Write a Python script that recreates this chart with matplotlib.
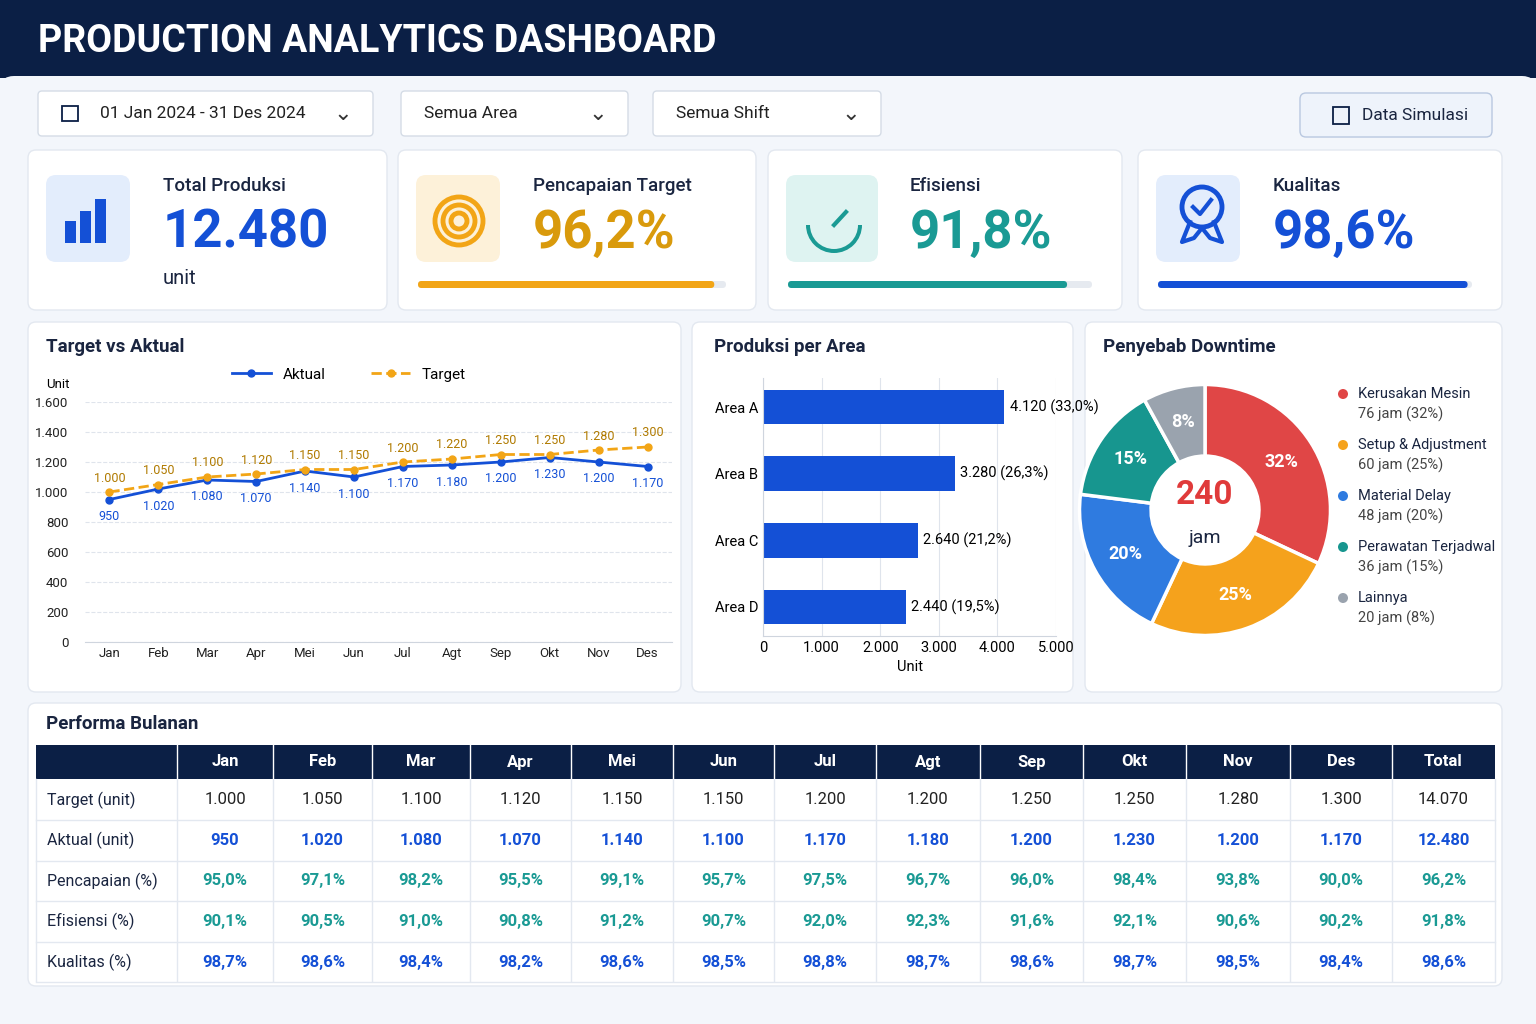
import matplotlib.pyplot as plt
from matplotlib.patches import FancyBboxPatch, Rectangle, Circle, Wedge

W, H = 1536, 1024
NAVY = "#0b1f45"
BLUE = "#1450d6"
ORANGE = "#f2a516"
TEAL = "#1a9a94"
GRID = "#dfe4ec"

months = ["Jan", "Feb", "Mar", "Apr", "Mei", "Jun", "Jul", "Agt", "Sep", "Okt", "Nov", "Des"]
target = [1000, 1050, 1100, 1120, 1150, 1150, 1200, 1220, 1250, 1250, 1280, 1300]
aktual = [950, 1020, 1080, 1070, 1140, 1100, 1170, 1180, 1200, 1230, 1200, 1170]
areas = ["Area A", "Area B", "Area C", "Area D"]
area_vals = [4120, 3280, 2640, 2440]
area_pct = ["33,0%", "26,3%", "21,2%", "19,5%"]
dt_names = ["Kerusakan Mesin", "Setup & Adjustment", "Material Delay", "Perawatan Terjadwal", "Lainnya"]
dt_hours = [76, 60, 48, 36, 20]
dt_pct = [32, 25, 20, 15, 8]
dt_colors = ["#e04646", "#f5a21c", "#2f7be0", "#17968f", "#9aa3ae"]

tbl_target = ["1.000", "1.050", "1.100", "1.120", "1.150", "1.150", "1.200", "1.200", "1.250", "1.250", "1.280", "1.300", "14.070"]
tbl_aktual = ["950", "1.020", "1.080", "1.070", "1.140", "1.100", "1.170", "1.180", "1.200", "1.230", "1.200", "1.170", "12.480"]
tbl_capai = ["95,0%", "97,1%", "98,2%", "95,5%", "99,1%", "95,7%", "97,5%", "96,7%", "96,0%", "98,4%", "93,8%", "90,0%", "96,2%"]
tbl_efis = ["90,1%", "90,5%", "91,0%", "90,8%", "91,2%", "90,7%", "92,0%", "92,3%", "91,6%", "92,1%", "90,6%", "90,2%", "91,8%"]
tbl_kual = ["98,7%", "98,6%", "98,4%", "98,2%", "98,6%", "98,5%", "98,8%", "98,7%", "98,6%", "98,7%", "98,5%", "98,4%", "98,6%"]

plt.rcParams['font.family'] = ['Roboto', 'DejaVu Sans']
fig = plt.figure(figsize=(15.36, 10.24), dpi=100)
fig.patch.set_facecolor("#f3f6fb")
bg = fig.add_axes([0, 0, 1, 1])
bg.set_xlim(0, W); bg.set_ylim(H, 0); bg.axis("off")


def pax(x, y, w, h):
    return fig.add_axes([x / W, 1 - (y + h) / H, w / W, h / H])


def card(x, y, w, h, fc="white", ec="#e3e8f0", r=8):
    bg.add_patch(FancyBboxPatch((x, y), w, h, boxstyle=f"round,pad=0,rounding_size={r}",
                                fc=fc, ec=ec, lw=1))


# header
bg.add_patch(Rectangle((0, 0), W, 78, fc=NAVY))
card(0, 76, W, 950, fc="#f3f6fb", ec="none", r=14)
bg.text(38, 42, "PRODUCTION ANALYTICS DASHBOARD", color="white", fontsize=27,
        fontweight="bold", va="center")

# filters
for x, w, label in [(38, 335, "01 Jan 2024 - 31 Des 2024"), (401, 227, "Semua Area"), (653, 228, "Semua Shift")]:
    card(x, 91, w, 45, r=4, ec="#d5dce6")
    tx = x + 62 if x == 38 else x + 23
    bg.text(tx, 114, label, fontsize=12.5, va="center", color="#222")
    bg.text(x + w - 30, 114, "⌄", fontsize=16, va="center", ha="center", color="#333")
bg.add_patch(Rectangle((62, 106), 16, 15, fc="none", ec=NAVY, lw=1.3))
card(1300, 93, 192, 44, fc="#eef3fb", ec="#b9c8e0", r=6)
bg.text(1362, 116, "Data Simulasi", fontsize=12.5, va="center", color="#1a2540")
bg.add_patch(Rectangle((1333, 107), 16, 17, fc="none", ec=NAVY, lw=1.3))

# KPI cards
kpis = [(28, 359, "Total Produksi", "12.480", BLUE, "#e3edfc", None),
        (398, 358, "Pencapaian Target", "96,2%", "#d99a0c", "#fdf1d9", (ORANGE, 0.962)),
        (768, 354, "Efisiensi", "91,8%", TEAL, "#def3f1", (TEAL, 0.918)),
        (1138, 364, "Kualitas", "98,6%", BLUE, "#e3edfc", (BLUE, 0.986))]
for x, w, title, val, col, icbg, bar in kpis:
    card(x, 150, w, 160)
    card(x + 18, 25 + 150, 84 if x != 768 else 92, 87, fc=icbg, ec="none", r=10)
    tx = x + 135 if x == 28 else x + 135 if x != 768 else x + 142
    bg.text(tx, 186, title, fontsize=13.5, fontweight="medium", va="center", color="#1a2540")
    bg.text(tx, 233, val, fontsize=38, fontweight="bold", va="center", color=col)
    if bar:
        c, f = bar
        bw = w - 50
        card(x + 20, 281, bw, 7, fc="#e6eaf0", ec="none", r=3.5)
        card(x + 20, 281, bw * f, 7, fc=c, ec="none", r=3.5)
    else:
        bg.text(163, 278, "unit", fontsize=14.5, va="center", color="#1a2540")
# icons
for i, hh in enumerate([22, 32, 44]):
    bg.add_patch(Rectangle((65 + i * 15, 243 - hh), 11, hh, fc=BLUE))
for r, c in [(24, ORANGE), (16, ORANGE), (8, ORANGE)]:
    bg.add_patch(Circle((459, 221), r, fc="none", ec=c, lw=3.5))
bg.add_patch(Wedge((834, 225), 28, 0, 180, width=4, fc=TEAL))
bg.plot([834, 846], [225, 212], color=TEAL, lw=3)
bg.add_patch(Circle((1202, 207), 20, fc="none", ec=BLUE, lw=3.5))
bg.plot([1193, 1200, 1211], [207, 214, 200], color=BLUE, lw=3)
bg.plot([1190, 1182, 1194, 1202], [222, 242, 238, 228], color=BLUE, lw=3)
bg.plot([1214, 1222, 1210, 1202], [222, 242, 238, 228], color=BLUE, lw=3)

# panel cards
card(28, 322, 653, 370)
card(692, 322, 381, 370)
card(1085, 322, 417, 370)
card(28, 703, 1474, 283)
bg.text(46, 347, "Target vs Aktual", fontsize=13.5, fontweight="bold", va="center", color="#1a2540")
bg.text(714, 347, "Produksi per Area", fontsize=13.5, fontweight="bold", va="center", color="#1a2540")
bg.text(1103, 347, "Penyebab Downtime", fontsize=13.5, fontweight="bold", va="center", color="#1a2540")
bg.text(46, 724, "Performa Bulanan", fontsize=13.5, fontweight="bold", va="center", color="#1a2540")

# line chart
ax = pax(85, 402, 587, 240)
x = range(len(months))
ax.plot(x, aktual, color=BLUE, lw=2, marker="o", ms=5, label="Aktual")
ax.plot(x, target, color=ORANGE, lw=2, ls="--", marker="o", ms=5, label="Target")
for i in x:
    ax.text(i, target[i] + 50, f"{target[i]:,}".replace(",", "."), ha="center", va="bottom",
            fontsize=9, color="#b07a00")
    ax.text(i, aktual[i] - 70, f"{aktual[i]:,}".replace(",", "."), ha="center", va="top",
            fontsize=9, color=BLUE)
ax.set_xlim(-0.5, 11.5); ax.set_ylim(0, 1600)
ax.set_yticks(range(0, 1601, 200))
ax.set_yticklabels([f"{v:,}".replace(",", ".") for v in range(0, 1601, 200)])
ax.set_xticks(list(x)); ax.set_xticklabels(months)
ax.tick_params(labelsize=9.5, length=0, colors="#222")
ax.yaxis.set_tick_params(pad=12)
ax.grid(axis="y", color=GRID, ls="--", lw=0.8)
for s in ax.spines.values():
    s.set_visible(False)
ax.spines["bottom"].set_visible(True); ax.spines["bottom"].set_color("#cfd5de")
ax.set_facecolor("none")
ax.legend(loc="upper center", bbox_to_anchor=(0.45, 1.2), ncol=2, frameon=False, fontsize=11,
          handlelength=2.5, columnspacing=3)
bg.text(46, 384, "Unit", fontsize=9.5, va="center")

# bar chart
bx = pax(763, 378, 293, 258)
yp = range(len(areas))
bx.barh(yp, area_vals, height=0.52, color=BLUE)
for i, v in enumerate(area_vals):
    bx.text(v + 90, i, f"{v:,}".replace(",", ".") + f" ({area_pct[i]})", va="center", fontsize=10.5)
bx.set_yticks(list(yp)); bx.set_yticklabels(areas)
bx.invert_yaxis()
bx.set_xlim(0, 5000)
bx.set_xticks(range(0, 5001, 1000))
bx.set_xticklabels(["0"] + [f"{v:,}".replace(",", ".") for v in range(1000, 5001, 1000)])
bx.tick_params(labelsize=10.5, length=0)
bx.grid(axis="x", color=GRID, lw=0.8); bx.set_axisbelow(True)
for s in bx.spines.values():
    s.set_visible(False)
bx.spines["left"].set_visible(True); bx.spines["left"].set_color("#cfd5de")
bx.spines["bottom"].set_visible(True); bx.spines["bottom"].set_color("#cfd5de")
bx.set_xlabel("Unit", fontsize=10.5)
bx.set_facecolor("none")

# donut
dx = pax(1077, 382, 256, 256)
wedges, _ = dx.pie(dt_pct, colors=dt_colors, startangle=90, counterclock=False,
                   wedgeprops=dict(width=0.57, edgecolor="white", linewidth=2.5))
import numpy as np
ang = 90
for p in dt_pct:
    mid = np.deg2rad(ang - p * 3.6 / 2)
    dx.text(0.72 * np.cos(mid), 0.72 * np.sin(mid), f"{p}%", ha="center", va="center",
            color="white", fontsize=13, fontweight="bold")
    ang -= p * 3.6
dx.text(0, 0.12, str(sum(dt_hours)), ha="center", va="center", fontsize=24, fontweight="bold", color="#e03a3a")
dx.text(0, -0.22, "jam", ha="center", va="center", fontsize=14, color="#1a2540")
dx.set_xlim(-1.02, 1.02); dx.set_ylim(-1.02, 1.02)
for i, (n, h, p) in enumerate(zip(dt_names, dt_hours, dt_pct)):
    y0 = 394 + i * 51
    bg.add_patch(Circle((1343, y0), 5, fc=dt_colors[i]))
    bg.text(1358, y0, n, fontsize=10.5, va="center", color="#1a2540")
    bg.text(1358, y0 + 20, f"{h} jam ({p}%)", fontsize=10.5, va="center", color="#444")

# table
cols_x = [36, 177, 273, 372, 470, 571, 673, 774, 876, 980, 1083, 1186, 1290, 1392, 1495]
heads = months + ["Total"]
bg.add_patch(Rectangle((36, 745), 1459, 34, fc=NAVY))
for j, hd in enumerate(heads):
    cx = (cols_x[j + 1] + cols_x[j + 2]) / 2
    bg.text(cx, 762, hd, color="white", fontsize=12, fontweight="bold", ha="center", va="center")
for j in range(1, 14):
    bg.plot([cols_x[j], cols_x[j]], [745, 779], color="white", lw=1)
rows = [("Target (unit)", tbl_target, "#222", "normal"),
        ("Aktual (unit)", tbl_aktual, BLUE, "bold"),
        ("Pencapaian (%)", tbl_capai, TEAL, "bold"),
        ("Efisiensi (%)", tbl_efis, TEAL, "bold"),
        ("Kualitas (%)", tbl_kual, BLUE, "bold")]
for i, (lab, vals, col, fw) in enumerate(rows):
    yc = 800 + i * 40.5
    bg.text(47, yc, lab, fontsize=11.5, va="center", color="#1a2540")
    for j, v in enumerate(vals):
        cx = (cols_x[j + 1] + cols_x[j + 2]) / 2
        bg.text(cx, yc, v, fontsize=12, ha="center", va="center", color=col, fontweight=fw)
    bg.plot([36, 1495], [yc + 20, yc + 20], color="#e3e8f0", lw=1)
for j in range(1, 15):
    bg.plot([cols_x[j], cols_x[j]], [779, 981], color="#e3e8f0", lw=1)
bg.plot([36, 36], [779, 981], color="#e3e8f0", lw=1)

fig.savefig("out.png", dpi=100, facecolor=fig.get_facecolor())
